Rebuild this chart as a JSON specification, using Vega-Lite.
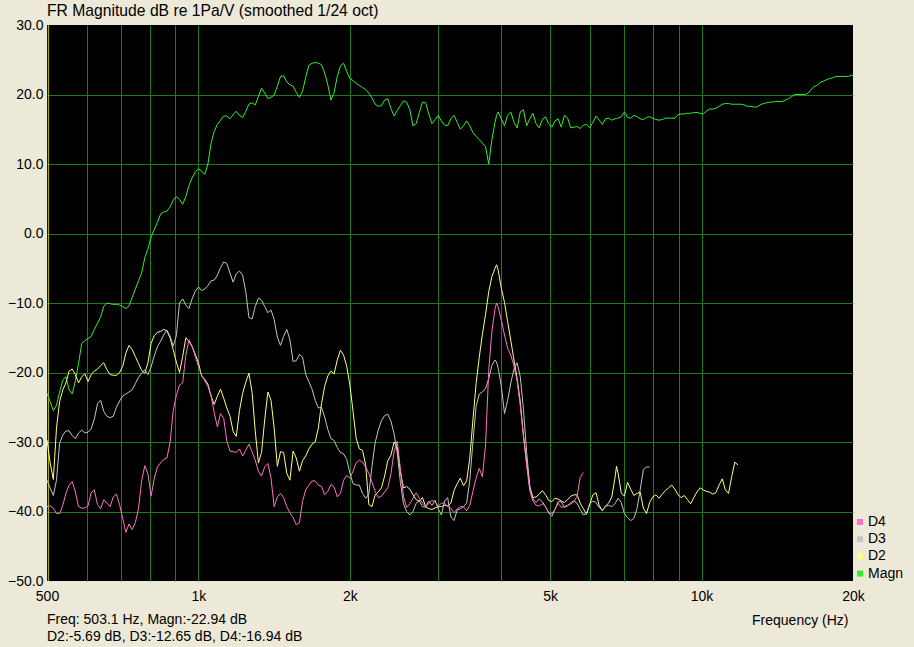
{
"$schema": "https://vega.github.io/schema/vega-lite/v6.json",
"width": 806, "height": 556,
"autosize": {"type": "none"},
"padding": {"left": 47, "top": 25, "right": 61, "bottom": 66},
"background": "#ECE9D8",
"config": {"view": {"fill": "#000000", "stroke": null}, "font": "Liberation Sans", "text": {"font": "Liberation Sans"}},
"title": {"text": "FR Magnitude dB re 1Pa/V (smoothed 1/24 oct)", "anchor": "start", "frame": "group", "fontSize": 15.7, "fontWeight": "normal", "color": "#000000", "offset": -2, "font": "Liberation Sans"},
"data": {"values": [
{"f":500,"m":-23.0,"d2":-29.7,"d3":-35.5,"d4":-39.3},
{"f":507.3,"m":-24.2,"d2":-33,"d3":-36.6,"d4":-39.2},
{"f":514.7,"m":-25.5,"d2":-35.4,"d3":-37.7,"d4":-39.5},
{"f":522.2,"m":-24.7,"d2":-28.0,"d3":-35.5,"d4":-40.3},
{"f":529.7,"m":-22.8,"d2":-24.2,"d3":-30.2,"d4":-40.3},
{"f":537.5,"m":-21.1,"d2":-22.5,"d3":-29.0,"d4":-39.1},
{"f":545.2,"m":-20.6,"d2":-21.5,"d3":-28.4,"d4":-37.4},
{"f":553.2,"m":-22.5,"d2":-19.8,"d3":-28.4,"d4":-36.2},
{"f":561.2,"m":-23.1,"d2":-19.5,"d3":-29.1,"d4":-35.7},
{"f":569.4,"m":-21.2,"d2":-20.3,"d3":-29.5,"d4":-37.2},
{"f":577.7,"m":-18.7,"d2":-21.5,"d3":-28.7,"d4":-39.3},
{"f":586.1,"m":-15.8,"d2":-20.6,"d3":-28.3,"d4":-39.5},
{"f":594.6,"m":-15.4,"d2":-20.2,"d3":-28.7,"d4":-39.5},
{"f":603.3,"m":-15.1,"d2":-21.3,"d3":-28.6,"d4":-39.2},
{"f":612.0,"m":-14.8,"d2":-20.3,"d3":-28.1,"d4":-37.3},
{"f":620.9,"m":-13.8,"d2":-19.8,"d3":-26.7,"d4":-36.9},
{"f":630.0,"m":-12.9,"d2":-19.5,"d3":-24.5,"d4":-39.0},
{"f":639.1,"m":-12.0,"d2":-19.0,"d3":-24.0,"d4":-39.6},
{"f":648.4,"m":-10.5,"d2":-18.6,"d3":-25.6,"d4":-38.3},
{"f":657.8,"m":-10.0,"d2":-19.6,"d3":-26.3,"d4":-38.8},
{"f":667.4,"m":-10.1,"d2":-20.3,"d3":-26.5,"d4":-39.3},
{"f":677.1,"m":-10.2,"d2":-20.4,"d3":-26.3,"d4":-37.9},
{"f":687.0,"m":-10.2,"d2":-20.4,"d3":-25.0,"d4":-37.5},
{"f":697.0,"m":-10.3,"d2":-20.0,"d3":-24.1,"d4":-39.0},
{"f":707.1,"m":-10.5,"d2":-19.1,"d3":-23.4,"d4":-41.0},
{"f":717.4,"m":-10.8,"d2":-17.2,"d3":-23.1,"d4":-43.0},
{"f":727.8,"m":-10.4,"d2":-16.1,"d3":-22.8,"d4":-41.8},
{"f":738.4,"m":-9.2,"d2":-16.7,"d3":-22.5,"d4":-42.6},
{"f":749.2,"m":-8.0,"d2":-17.7,"d3":-21.6,"d4":-41.6},
{"f":760.1,"m":-6.8,"d2":-18.7,"d3":-20.7,"d4":-39.6},
{"f":771.1,"m":-5.7,"d2":-19.7,"d3":-20.1,"d4":-35.6},
{"f":782.3,"m":-3.5,"d2":-20.1,"d3":-19.6,"d4":-33.4},
{"f":793.7,"m":-2.2,"d2":-18.6,"d3":-20.3,"d4":-34.6},
{"f":805.2,"m":-0.5,"d2":-15.8,"d3":-19.2,"d4":-37.8},
{"f":817.0,"m":0.6,"d2":-14.7,"d3":-17.6,"d4":-35.2},
{"f":828.8,"m":1.6,"d2":-14.2,"d3":-16.3,"d4":-33.6},
{"f":840.9,"m":2.8,"d2":-14.1,"d3":-15.5,"d4":-33.0},
{"f":853.1,"m":3.1,"d2":-13.8,"d3":-14.6,"d4":-32.5},
{"f":865.5,"m":3.2,"d2":-14.0,"d3":-13.9,"d4":-32.3},
{"f":878.1,"m":3.8,"d2":-15.0,"d3":-14.8,"d4":-30.1},
{"f":890.9,"m":4.8,"d2":-16.7,"d3":-16.2,"d4":-25.5},
{"f":903.8,"m":5.3,"d2":-18.5,"d3":-14.7,"d4":-23.3},
{"f":917.0,"m":4.9,"d2":-20.0,"d3":-10.0,"d4":-21.8},
{"f":930.3,"m":4.2,"d2":-17.7,"d3":-9.4,"d4":-21.5},
{"f":943.9,"m":5.3,"d2":-15.0,"d3":-10.3,"d4":-17.5},
{"f":957.6,"m":6.9,"d2":-15.5,"d3":-10.8,"d4":-15.3},
{"f":971.5,"m":8.0,"d2":-16.3,"d3":-9.4,"d4":-16.2},
{"f":985.7,"m":8.9,"d2":-17.4,"d3":-8.3,"d4":-17.7},
{"f":1000,"m":9.3,"d2":-18.6,"d3":-7.7,"d4":-19.1},
{"f":1014.5,"m":9.0,"d2":-20.5,"d3":-8.2,"d4":-20.4},
{"f":1029.3,"m":8.5,"d2":-21.0,"d3":-8.0,"d4":-21.2},
{"f":1044.3,"m":10.0,"d2":-21.7,"d3":-7.5,"d4":-22.0},
{"f":1059.5,"m":13.0,"d2":-23.4,"d3":-6.8,"d4":-23.3},
{"f":1074.9,"m":14.7,"d2":-24.6,"d3":-6.7,"d4":-25.8},
{"f":1090.5,"m":15.7,"d2":-23.4,"d3":-6.0,"d4":-27.8},
{"f":1106.4,"m":16.3,"d2":-22.4,"d3":-4.9,"d4":-25.9},
{"f":1122.5,"m":16.9,"d2":-23.7,"d3":-4.1,"d4":-26.6},
{"f":1138.8,"m":16.9,"d2":-25.1,"d3":-4.3,"d4":-29.9},
{"f":1155.4,"m":16.5,"d2":-26.3,"d3":-5.7,"d4":-31.3},
{"f":1172.2,"m":17.1,"d2":-28.5,"d3":-7.0,"d4":-31.4},
{"f":1189.2,"m":17.6,"d2":-29.2,"d3":-5.8,"d4":-31.5},
{"f":1206.5,"m":17.0,"d2":-25.5,"d3":-5.4,"d4":-31.0},
{"f":1224.1,"m":16.7,"d2":-23.0,"d3":-6.0,"d4":-32.0},
{"f":1241.9,"m":17.6,"d2":-21.4,"d3":-8.4,"d4":-31.2},
{"f":1259.9,"m":18.6,"d2":-20.1,"d3":-12.1,"d4":-30.3},
{"f":1278.3,"m":18.8,"d2":-22.9,"d3":-12.3,"d4":-31.4},
{"f":1296.8,"m":18.5,"d2":-28.4,"d3":-10.5,"d4":-32.6},
{"f":1315.7,"m":19.7,"d2":-33.0,"d3":-9.3,"d4":-34.2},
{"f":1334.8,"m":20.9,"d2":-31.5,"d3":-9.6,"d4":-34.9},
{"f":1354.3,"m":20.2,"d2":-26.8,"d3":-10.5,"d4":-33.6},
{"f":1374.1,"m":19.4,"d2":-22.8,"d3":-11.4,"d4":-33.1},
{"f":1394.0,"m":19.6,"d2":-24.0,"d3":-11.0,"d4":-35.2},
{"f":1414.2,"m":19.9,"d2":-28.0,"d3":-12.4,"d4":-39.3},
{"f":1434.8,"m":21.2,"d2":-33.5,"d3":-14.9,"d4":-37.9},
{"f":1455.7,"m":22.6,"d2":-31.4,"d3":-16.1,"d4":-37.4},
{"f":1476.8,"m":22.7,"d2":-31.5,"d3":-14.8,"d4":-38.0},
{"f":1498.3,"m":21.8,"d2":-34.5,"d3":-13.8,"d4":-39.3},
{"f":1520.1,"m":21.4,"d2":-35.5,"d3":-15.3,"d4":-40.2},
{"f":1542.2,"m":21.2,"d2":-31.3,"d3":-18.4,"d4":-40.9},
{"f":1564.6,"m":20.3,"d2":-32.3,"d3":-18.3,"d4":-41.9},
{"f":1587.4,"m":19.6,"d2":-34.2,"d3":-17.4,"d4":-41.6},
{"f":1610.5,"m":20.5,"d2":-32.7,"d3":-17.8,"d4":-38.5},
{"f":1633.9,"m":22.5,"d2":-32.0,"d3":-20.3,"d4":-36.9},
{"f":1657.7,"m":24.2,"d2":-31.0,"d3":-21.3,"d4":-36.2},
{"f":1681.8,"m":24.5,"d2":-30.3,"d3":-22.4,"d4":-35.6},
{"f":1706.3,"m":24.6,"d2":-30.0,"d3":-24.0,"d4":-35.6},
{"f":1731.0,"m":24.5,"d2":-28.0,"d3":-25.1,"d4":-36.2},
{"f":1756.2,"m":24.3,"d2":-24.5,"d3":-25.0,"d4":-36.4},
{"f":1781.8,"m":23.1,"d2":-22.0,"d3":-26.4,"d4":-37.6},
{"f":1807.7,"m":21.4,"d2":-20.5,"d3":-28.2,"d4":-37.1},
{"f":1834.0,"m":19.2,"d2":-19.8,"d3":-29.5,"d4":-36.1},
{"f":1860.7,"m":20.3,"d2":-20.2,"d3":-29.8,"d4":-36.5},
{"f":1887.7,"m":22.6,"d2":-18.2,"d3":-30.8,"d4":-37.9},
{"f":1915.2,"m":24.1,"d2":-16.8,"d3":-31.5,"d4":-37.4},
{"f":1943.1,"m":24.5,"d2":-17.5,"d3":-31.7,"d4":-35.5},
{"f":1971.3,"m":23.3,"d2":-19.1,"d3":-32.5,"d4":-34.8},
{"f":2000,"m":22.3,"d2":-21.8,"d3":-34.5,"d4":-35.2},
{"f":2029,"m":22.0,"d2":-25.6,"d3":-36.0,"d4":-34.2},
{"f":2058.6,"m":21.6,"d2":-29.5,"d3":-36.2,"d4":-33.0},
{"f":2088.6,"m":21.3,"d2":-31.0,"d3":-36.2,"d4":-32.6},
{"f":2119,"m":21.0,"d2":-31.2,"d3":-37.4,"d4":-32.9},
{"f":2149.8,"m":20.7,"d2":-33.3,"d3":-38.1,"d4":-33.6},
{"f":2181,"m":20.2,"d2":-39.0,"d3":-37.5,"d4":-34.5},
{"f":2212.8,"m":19.5,"d2":-39.3,"d3":-33.5,"d4":-35.8},
{"f":2245,"m":18.6,"d2":-37.6,"d3":-30.1,"d4":-37.1},
{"f":2277.6,"m":18.3,"d2":-37.2,"d3":-28.3,"d4":-38.0},
{"f":2310.8,"m":18.4,"d2":-36.6,"d3":-26.9,"d4":-37.8},
{"f":2344.4,"m":19.2,"d2":-34.9,"d3":-26.2,"d4":-37.2},
{"f":2378.4,"m":19.4,"d2":-32.7,"d3":-26.0,"d4":-36.6},
{"f":2413,"m":18.0,"d2":-31.9,"d3":-27.0,"d4":-34.6},
{"f":2448.2,"m":16.9,"d2":-30.0,"d3":-28.8,"d4":-31.4},
{"f":2483.8,"m":17.7,"d2":-30.8,"d3":-31.5,"d4":-29.9},
{"f":2519.8,"m":18.4,"d2":-34.3,"d3":-35.8,"d4":-33.9},
{"f":2556.6,"m":19.1,"d2":-36.6,"d3":-38.9,"d4":-37.9},
{"f":2593.6,"m":18.9,"d2":-36.4,"d3":-40.0,"d4":-39.4},
{"f":2631.4,"m":17.8,"d2":-36.8,"d3":-40.5,"d4":-38.9},
{"f":2669.6,"m":15.5,"d2":-37.6,"d3":-40.0,"d4":-38.1},
{"f":2708.6,"m":15.8,"d2":-38.3,"d3":-38.8,"d4":-37.3},
{"f":2748.2,"m":17.4,"d2":-38.5,"d3":-38.5,"d4":-38.1},
{"f":2788,"m":18.9,"d2":-38.0,"d3":-39.3,"d4":-38.8},
{"f":2828.4,"m":18.8,"d2":-39.3,"d3":-39.4,"d4":-39.3},
{"f":2869.6,"m":17.2,"d2":-39.6,"d3":-38.5,"d4":-38.8},
{"f":2911.4,"m":15.8,"d2":-39.7,"d3":-39.1,"d4":-38.4},
{"f":2953.6,"m":16.4,"d2":-39.5,"d3":-38.4,"d4":-38.6},
{"f":2996.6,"m":17.0,"d2":-39.3,"d3":-39.6,"d4":-39.2},
{"f":3040.2,"m":16.2,"d2":-39.3,"d3":-40.5,"d4":-38.8},
{"f":3084.4,"m":15.6,"d2":-39.1,"d3":-38.5,"d4":-38.8},
{"f":3129.2,"m":15.5,"d2":-39.2,"d3":-38.0,"d4":-39.3},
{"f":3174.8,"m":16.5,"d2":-38.8,"d3":-40.8,"d4":-39.5},
{"f":3221,"m":17.0,"d2":-37.0,"d3":-41.3,"d4":-40.2},
{"f":3267.8,"m":16.0,"d2":-36.0,"d3":-39.8,"d4":-39.6},
{"f":3315.4,"m":15.0,"d2":-35.2,"d3":-39.6,"d4":-39.3},
{"f":3363.6,"m":15.5,"d2":-36.3,"d3":-39.3,"d4":-39.3},
{"f":3412.6,"m":16.2,"d2":-35.6,"d3":-38.8,"d4":-39.9},
{"f":3462,"m":15.5,"d2":-32.3,"d3":-35.5,"d4":-39.1},
{"f":3512.4,"m":14.5,"d2":-26.8,"d3":-30.0,"d4":-37.1},
{"f":3563.6,"m":14.0,"d2":-21.6,"d3":-24.9,"d4":-35.2},
{"f":3615.4,"m":13.5,"d2":-17.8,"d3":-23.1,"d4":-33.8},
{"f":3668,"m":13.0,"d2":-14.5,"d3":-22.8,"d4":-35.0},
{"f":3721.4,"m":12.5,"d2":-11.6,"d3":-22.3,"d4":-30.4},
{"f":3775.4,"m":10.0,"d2":-8.4,"d3":-20.9,"d4":-19.7},
{"f":3830.4,"m":13.5,"d2":-6.2,"d3":-19.0,"d4":-14.1},
{"f":3886.2,"m":16.0,"d2":-5.0,"d3":-18.2,"d4":-10.8},
{"f":3914,"m":17.0,"d2":-4.5,"d3":-18.5,"d4":-10.0},
{"f":3942.6,"m":17.5,"d2":-5.3,"d3":-19.4,"d4":-10.6},
{"f":4000,"m":16.5,"d2":-7.9,"d3":-22.0,"d4":-12.5},
{"f":4058,"m":15.5,"d2":-9.9,"d3":-25.9,"d4":-14.6},
{"f":4117.2,"m":17.0,"d2":-12.7,"d3":-24.0,"d4":-16.5},
{"f":4177.2,"m":17.5,"d2":-15.4,"d3":-21.5,"d4":-17.5},
{"f":4238,"m":16.0,"d2":-18.2,"d3":-19.5,"d4":-19.1},
{"f":4299.6,"m":15.2,"d2":-20.9,"d3":-18.6,"d4":-21.2},
{"f":4362,"m":17.5,"d2":-24.2,"d3":-20.6,"d4":-24.8},
{"f":4425.6,"m":17.8,"d2":-29.1,"d3":-25.3,"d4":-29.1},
{"f":4490,"m":15.5,"d2":-32.8,"d3":-31.4,"d4":-33.3},
{"f":4555.2,"m":16.5,"d2":-36.5,"d3":-36.3,"d4":-37.0},
{"f":4621.6,"m":17.3,"d2":-38.0,"d3":-38.2,"d4":-38.5},
{"f":4688.8,"m":15.8,"d2":-37.9,"d3":-38.7,"d4":-39.1},
{"f":4756.8,"m":15.2,"d2":-37.5,"d3":-38.2,"d4":-39.2},
{"f":4826,"m":16.4,"d2":-37.0,"d3":-38.6,"d4":-38.9},
{"f":4896.4,"m":16.8,"d2":-37.6,"d3":-39.3,"d4":-39.3},
{"f":4967.6,"m":15.8,"d2":-38.4,"d3":-40.2,"d4":-40.1},
{"f":5039.6,"m":15.3,"d2":-38.6,"d3":-40.7,"d4":-40.3},
{"f":5113.2,"m":16.2,"d2":-38.1,"d3":-39.7,"d4":-39.7},
{"f":5187.2,"m":16.5,"d2":-38.2,"d3":-38.6,"d4":-38.8},
{"f":5262.8,"m":15.3,"d2":-38.5,"d3":-38.6,"d4":-39.4},
{"f":5339.2,"m":17.0,"d2":-38.7,"d3":-39.4,"d4":-39.3},
{"f":5417.2,"m":16.6,"d2":-38.3,"d3":-39.2,"d4":-39.1},
{"f":5496.4,"m":15.2,"d2":-37.8,"d3":-38.7,"d4":-38.9},
{"f":5576,"m":15.3,"d2":-37.6,"d3":-38.5,"d4":-38.6},
{"f":5656.8,"m":15.4,"d2":-37.6,"d3":-38.8,"d4":-37.8},
{"f":5739.2,"m":15.1,"d2":-38.8,"d3":-39.7,"d4":-35.1},
{"f":5822.8,"m":15.6,"d2":-39.6,"d3":-40.5,"d4":-34.4},
{"f":5907.2,"m":15.7,"d2":-40.4,"d3":-40.3},
{"f":5993.2,"m":15.2,"d2":-39.0,"d3":-38.9},
{"f":6080.4,"m":16.0,"d2":-37.6,"d3":-38.5},
{"f":6168.8,"m":16.9,"d2":-37.3,"d3":-38.7},
{"f":6258.4,"m":16.3,"d2":-39.1,"d3":-39.4},
{"f":6349.6,"m":15.7,"d2":-39.9,"d3":-39.8},
{"f":6442,"m":16.5,"d2":-39.2,"d3":-39.3},
{"f":6535.6,"m":16.6,"d2":-38.8,"d3":-39.1},
{"f":6630.8,"m":16.3,"d2":-37.9,"d3":-39.3},
{"f":6727.2,"m":16.5,"d2":-35.2,"d3":-38.9},
{"f":6776,"m":16.55,"d2":-33.5,"d3":-38.5},
{"f":6825.2,"m":16.6,"d2":-34.5,"d3":-38.1},
{"f":6924,"m":16.8,"d2":-37.3,"d3":-38.7},
{"f":7024.8,"m":17.5,"d2":-37.8,"d3":-40.3},
{"f":7127.2,"m":16.7,"d2":-35.8,"d3":-40.9},
{"f":7230.8,"m":16.6,"d2":-36.8,"d3":-41.3},
{"f":7336,"m":17.0,"d2":-37.7,"d3":-41.0},
{"f":7442.8,"m":16.8,"d2":-37.4,"d3":-39.6},
{"f":7550.8,"m":16.5,"d2":-37.2,"d3":-36.9},
{"f":7660.8,"m":16.4,"d2":-39.5,"d3":-34.0},
{"f":7772.4,"m":16.7,"d2":-40.3,"d3":-33.6},
{"f":7885.2,"m":16.8,"d2":-38.7,"d3":-33.6},
{"f":8000,"m":16.6,"d2":-37.9},
{"f":8116,"m":16.4,"d2":-37.6},
{"f":8234,"m":16.3,"d2":-38.1},
{"f":8354,"m":16.4,"d2":-37.5},
{"f":8476,"m":16.6,"d2":-37.0},
{"f":8599,"m":16.6,"d2":-36.6},
{"f":8724,"m":16.6,"d2":-36.2},
{"f":8851,"m":16.6,"d2":-36.8},
{"f":8980,"m":17.1,"d2":-37.6},
{"f":9110,"m":17.2,"d2":-38.0},
{"f":9243,"m":17.2,"d2":-37.7},
{"f":9378,"m":17.3,"d2":-38.3},
{"f":9514,"m":17.3,"d2":-38.9},
{"f":9652,"m":17.4,"d2":-38.0},
{"f":9793,"m":17.4,"d2":-37.2},
{"f":9935,"m":17.3,"d2":-36.6},
{"f":10079,"m":17.2,"d2":-36.9},
{"f":10226,"m":17.6,"d2":-37.1},
{"f":10374,"m":17.9,"d2":-37.2},
{"f":10526,"m":17.9,"d2":-37.5},
{"f":10678,"m":18.0,"d2":-37.3},
{"f":10834,"m":18.3,"d2":-36.2},
{"f":10993,"m":18.6,"d2":-35.3},
{"f":11152,"m":18.7,"d2":-36.9},
{"f":11314,"m":18.7,"d2":-37.4},
{"f":11478,"m":18.6,"d2":-35.0},
{"f":11646,"m":18.6,"d2":-32.9},
{"f":11814,"m":18.6,"d2":-33.3},
{"f":11986,"m":18.6},
{"f":12161,"m":18.5},
{"f":12338,"m":18.3},
{"f":12517,"m":18.3},
{"f":12699,"m":18.2},
{"f":12884,"m":18.2},
{"f":13071,"m":18.5},
{"f":13262,"m":18.7},
{"f":13454,"m":18.8},
{"f":13650,"m":18.9},
{"f":13848,"m":18.9},
{"f":14050,"m":19.0},
{"f":14254,"m":19.0},
{"f":14462,"m":19.0},
{"f":14672,"m":19.2},
{"f":14886,"m":19.4},
{"f":15102,"m":19.7},
{"f":15322,"m":20.0},
{"f":15545,"m":20.0},
{"f":15770,"m":20.0},
{"f":16000,"m":20.0},
{"f":16232,"m":20.1},
{"f":16469,"m":20.6},
{"f":16709,"m":21.1},
{"f":16952,"m":21.3},
{"f":17198,"m":21.7},
{"f":17448,"m":21.9},
{"f":17702,"m":22.1},
{"f":17960,"m":22.3},
{"f":18221,"m":22.4},
{"f":18486,"m":22.6},
{"f":18756,"m":22.6},
{"f":19029,"m":22.6},
{"f":19304,"m":22.6},
{"f":19586,"m":22.6},
{"f":19870,"m":22.8},
{"f":20000,"m":22.7}
]},
"encoding": {
  "x": {"field": "f", "type": "quantitative",
    "scale": {"type": "log", "domain": [500, 20000], "nice": false},
    "axis": {"values": [500,600,700,800,900,1000,2000,3000,4000,5000,6000,7000,8000,9000,10000,20000],
      "labelExpr": "indexof([500,1000,2000,5000,10000,20000], datum.value) >= 0 ? (datum.value >= 1000 ? (datum.value/1000) + 'k' : '' + datum.value) : ''",
      "grid": true, "gridColor": "#1f7a1f", "gridWidth": 1,
      "gridOpacity": {"condition": {"test": "datum.value == 500 || datum.value == 20000", "value": 0}, "value": 1},
      "domain": false, "ticks": false, "labelPadding": 8, "labelFontSize": 14, "labelColor": "#000000", "labelFont": "Liberation Sans",
      "labelFlush": false, "labelOverlap": false, "labelBound": false,
      "title": "Frequency (Hz)", "titleFont": "Liberation Sans", "titleFontSize": 14, "titleFontWeight": "normal", "titleColor": "#000000",
      "titleAnchor": null, "titleX": 801, "titleY": 39, "titleAlign": "right", "titleBaseline": "middle"}
  }
},
"layer": [
  {"transform": [{"filter": "datum.f == 500"}], "mark": {"type": "rule", "color": "#c8c400", "strokeWidth": 1},
   "encoding": {"x": {"datum": 503.1, "type": "quantitative"}}},
  {"mark": {"type": "line", "strokeWidth": 1},
   "encoding": {
     "y": {"field": "m", "type": "quantitative", "scale": {"domain": [-50, 30], "nice": false, "zero": false},
       "axis": {"values": [-50,-40,-30,-20,-10,0,10,20,30], "format": ".1f", "grid": true, "gridColor": "#1f7a1f",
         "gridOpacity": {"condition": {"test": "datum.value == -50 || datum.value == 30", "value": 0}, "value": 1},
         "domain": false, "ticks": false, "labelPadding": 4, "labelFontSize": 14, "labelColor": "#000000", "labelFont": "Liberation Sans", "labelFlush": false, "title": null}},
     "color": {"datum": "Magn", "type": "nominal",
       "scale": {"domain": ["D4", "D3", "D2", "Magn"], "range": ["#ff70c8", "#c4c4c4", "#ffff88", "#33ee33"]},
       "legend": {"orient": "none", "legendX": 806, "legendY": 490, "title": null, "symbolType": "square", "symbolSize": 9, "symbolStrokeWidth": 3,
         "labelFontSize": 14, "labelFont": "Liberation Sans", "labelColor": "#000000", "rowPadding": 1.2, "labelOffset": 1}}
   }},
  {"mark": {"type": "line", "strokeWidth": 1},
   "encoding": {"y": {"field": "d2", "type": "quantitative"}, "color": {"datum": "D2", "type": "nominal"}}},
  {"mark": {"type": "line", "strokeWidth": 1},
   "encoding": {"y": {"field": "d3", "type": "quantitative"}, "color": {"datum": "D3", "type": "nominal"}}},
  {"mark": {"type": "line", "strokeWidth": 1},
   "encoding": {"y": {"field": "d4", "type": "quantitative"}, "color": {"datum": "D4", "type": "nominal"}}},
  {"transform": [{"filter": "datum.f == 500"}], "mark": {"type": "text", "align": "left", "baseline": "middle", "fontSize": 14, "font": "Liberation Sans", "color": "#000000"},
   "encoding": {"y": {"datum": -55.6, "type": "quantitative"}, "text": {"value": "Freq: 503.1 Hz, Magn:-22.94 dB"}}},
  {"transform": [{"filter": "datum.f == 500"}], "mark": {"type": "text", "align": "left", "baseline": "middle", "fontSize": 14, "font": "Liberation Sans", "color": "#000000"},
   "encoding": {"y": {"datum": -58.05, "type": "quantitative"}, "text": {"value": "D2:-5.69 dB, D3:-12.65 dB, D4:-16.94 dB"}}}
]
}
